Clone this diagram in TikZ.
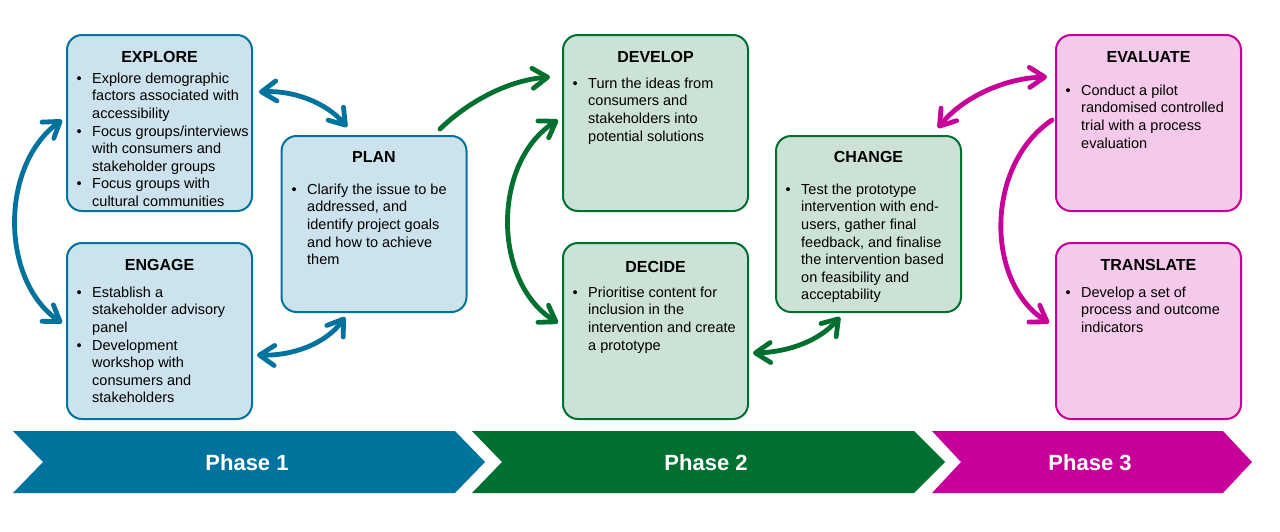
\documentclass[tikz,border=0pt]{standalone}
\usepackage{fontspec}
\setmainfont{Liberation Sans}
\usetikzlibrary{arrows.meta,calc}
\definecolor{pblue}{HTML}{00729E}
\definecolor{pgreen}{HTML}{007030}
\definecolor{pmag}{HTML}{C8009A}
\definecolor{fblue}{HTML}{CCE2EC}
\definecolor{fgreen}{HTML}{CCE2D6}
\definecolor{fmag}{HTML}{F4C9E9}
\newcommand{\bu}{\makebox[16pt][l]{\hspace{0.5pt}•}}
\tikzset{
  stagebox/.style 2 args={draw=#1, fill=#2, line width=2pt, rounded corners=15pt,
    minimum width=185pt, minimum height=176pt, inner sep=0pt},
  ttl/.style={anchor=base, inner sep=0pt, font=\bfseries\fontsize{16}{19}\selectfont},
  body/.style={anchor=north west, inner sep=0pt, font=\fontsize{14.5}{17.6}\selectfont},
  con/.style={draw=#1, line width=4.8pt,
    {Straight Barb[round,length=15pt,width=20pt]}-{Straight Barb[round,length=15pt,width=20pt]}},
  onecon/.style={draw=#1, line width=4.8pt, line cap=round,
    -{Straight Barb[round,length=15pt,width=20pt]}},
  phaselbl/.style={anchor=base, inner sep=0pt, text=white, font=\bfseries\fontsize{22}{26}\selectfont},
}
\begin{document}
\begin{tikzpicture}[x=1pt,y=1pt]
\useasboundingbox (0,0) rectangle (1280,-531);

% boxes
\node[stagebox={pblue}{fblue}] (explore) at (159.5,-123) {};
\node[stagebox={pblue}{fblue}] (engage) at (159.5,-331) {};
\node[stagebox={pblue}{fblue}] (plan) at (374,-224) {};
\node[stagebox={pgreen}{fgreen}] (develop) at (655.5,-123) {};
\node[stagebox={pgreen}{fgreen}] (decide) at (655.5,-331) {};
\node[stagebox={pgreen}{fgreen}] (change) at (868.5,-224) {};
\node[stagebox={pmag}{fmag}] (evaluate) at (1148.5,-123) {};
\node[stagebox={pmag}{fmag}] (translate) at (1148.5,-331) {};

% titles
\node[ttl] (exploreT) at (159.5,-62.8) {EXPLORE};
\node[ttl] (engageT) at (159.5,-270.8) {ENGAGE};
\node[ttl] (planT) at (374,-162.8) {PLAN};
\node[ttl] (developT) at (655.5,-62.8) {DEVELOP};
\node[ttl] (decideT) at (655.5,-272.8) {DECIDE};
\node[ttl] (changeT) at (868.5,-162.8) {CHANGE};
\node[ttl] (evaluateT) at (1148.5,-62.8) {EVALUATE};
\node[ttl] (translateT) at (1148.5,-270.8) {TRANSLATE};

% bodies
\node[body] (exploreB) at (76,-70.7) {\begin{tabular}{@{}l@{}l@{}}
\bu & Explore demographic\\ & factors associated with\\ & accessibility\\
\bu & Focus groups/interviews\\ & with consumers and\\ & stakeholder groups\\
\bu & Focus groups with\\ & cultural communities
\end{tabular}};
\node[body] (engageB) at (76,-284.7) {\begin{tabular}{@{}l@{}l@{}}
\bu & Establish a\\ & stakeholder advisory\\ & panel\\
\bu & Development\\ & workshop with\\ & consumers and\\ & stakeholders
\end{tabular}};
\node[body] (planB) at (291,-181.7) {\begin{tabular}{@{}l@{}l@{}}
\bu & Clarify the issue to be\\ & addressed, and\\ & identify project goals\\ & and how to achieve\\ & them
\end{tabular}};
\node[body] (developB) at (572,-75.7) {\begin{tabular}{@{}l@{}l@{}}
\bu & Turn the ideas from\\ & consumers and\\ & stakeholders into\\ & potential solutions
\end{tabular}};
\node[body] (decideB) at (572,-284.7) {\begin{tabular}{@{}l@{}l@{}}
\bu & Prioritise content for\\ & inclusion in the\\ & intervention and create\\ & a prototype
\end{tabular}};
\node[body] (changeB) at (785,-181.7) {\begin{tabular}{@{}l@{}l@{}}
\bu & Test the prototype\\ & intervention with end-\\ & users, gather final\\ & feedback, and finalise\\ & the intervention based\\ & on feasibility and\\ & acceptability
\end{tabular}};
\node[body] (evaluateB) at (1065,-82.7) {\begin{tabular}{@{}l@{}l@{}}
\bu & Conduct a pilot\\ & randomised controlled\\ & trial with a process\\ & evaluation
\end{tabular}};
\node[body] (translateB) at (1065,-284.7) {\begin{tabular}{@{}l@{}l@{}}
\bu & Develop a set of\\ & process and outcome\\ & indicators
\end{tabular}};

% connector end points
\coordinate (c1a) at ($(explore.west)+(-4,3)$);
\coordinate (c1b) at ($(engage.west)+(-4,8)$);
\coordinate (c2a) at ($(explore.east)+(6,31)$);
\coordinate (c2b) at ($(plan.north)+(-27,8)$);
\coordinate (c3a) at ($(engage.east)+(4,-24)$);
\coordinate (c3b) at ($(plan.south)+(-29,-4)$);
\coordinate (c4a) at ($(plan.north)+(66,6)$);
\coordinate (c4b) at ($(develop.west)+(-12,46)$);
\coordinate (c5a) at ($(develop.west)+(-4,3)$);
\coordinate (c5b) at ($(decide.west)+(-4,8)$);
\coordinate (c6a) at ($(decide.east)+(4,-22)$);
\coordinate (c6b) at ($(change.south)+(-28.5,-4)$);
\coordinate (c7a) at ($(evaluate.west)+(-8,46)$);
\coordinate (c7b) at ($(change.north)+(69.5,7)$);
\coordinate (c8a) at ($(evaluate.west)+(-3,3)$);
\coordinate (c8b) at ($(translate.west)+(-6,8)$);

% connectors
\draw[con=pblue] (c1a) .. controls (0,-165) and (0,-280) .. (c1b);
\draw[con=pblue] (c2a) .. controls (292,-90) and (326,-102) .. (c2b);
\draw[con=pblue] (c3a) .. controls (292,-356) and (326,-344) .. (c3b);
\draw[onecon=pgreen] (c4a) .. controls (470,-100) and (510,-80) .. (c4b);
\draw[con=pgreen] (c5a) .. controls (492,-162) and (492,-282) .. (c5b);
\draw[con=pgreen] (c6a) .. controls (790,-352) and (820,-340) .. (c6b);
\draw[con=pmag] (c7a) .. controls (1004,-78) and (962,-98) .. (c7b);
\draw[onecon=pmag] (c8a) .. controls (985,-165) and (985,-282) .. (c8b);

% phase chevrons
\fill[pblue] (13,-431) -- (455,-431) -- (485,-462) -- (455,-493) -- (13,-493) -- (43,-462) -- cycle;
\fill[pgreen] (472,-431) -- (914,-431) -- (945,-462) -- (914,-493) -- (472,-493) -- (502,-462) -- cycle;
\fill[pmag] (932,-431) -- (1223,-431) -- (1252,-462) -- (1223,-493) -- (932,-493) -- (961,-462) -- cycle;
\node[phaselbl] (ph1) at (247,-470) {Phase 1};
\node[phaselbl] (ph2) at (706,-470) {Phase 2};
\node[phaselbl] (ph3) at (1090,-470) {Phase 3};
\end{tikzpicture}
\end{document}
